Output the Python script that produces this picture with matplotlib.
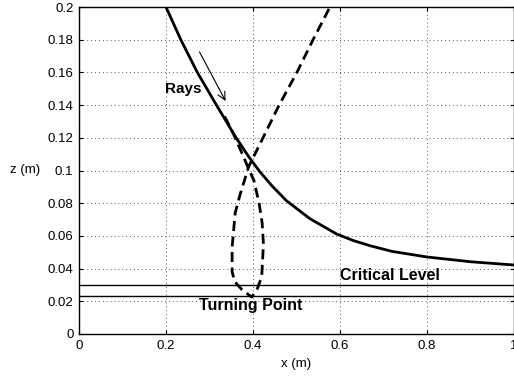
import matplotlib
matplotlib.use("Agg")
import matplotlib.pyplot as plt

plt.rcParams['font.family'] = ['Liberation Sans', 'DejaVu Sans']

# Solid ray (approaches critical level)
solid_x = [0.2, 0.234, 0.272, 0.316, 0.36, 0.39, 0.415, 0.444, 0.477, 0.531, 0.592,
           0.63, 0.669, 0.72, 0.8, 0.9, 1.0]
solid_z = [0.2, 0.18, 0.16, 0.14, 0.1205, 0.1085, 0.0995, 0.0905, 0.0815, 0.0705, 0.0612,
           0.0572, 0.0540, 0.0505, 0.0471, 0.0442, 0.0422]

# Dashed ray (reflects at turning point)
dash_x = [0.335, 0.354, 0.374, 0.39, 0.402, 0.414, 0.421, 0.424, 0.42, 0.409, 0.397,
          0.375, 0.358, 0.352, 0.352, 0.359, 0.37, 0.39, 0.423, 0.46, 0.501, 0.538, 0.577]
dash_z = [0.133, 0.123, 0.111, 0.101, 0.094, 0.080, 0.068, 0.055, 0.035, 0.027, 0.0226,
          0.027, 0.032, 0.038, 0.053, 0.074, 0.085, 0.1023, 0.12, 0.14, 0.16, 0.18, 0.2]

critical_level = 0.030
turning_level = 0.0234

x_ticks = [0, 0.2, 0.4, 0.6, 0.8, 1.0]
x_labels = ["0", "0.2", "0.4", "0.6", "0.8", "1"]
z_ticks = [0, 0.02, 0.04, 0.06, 0.08, 0.1, 0.12, 0.14, 0.16, 0.18, 0.2]
z_labels = ["0", "0.02", "0.04", "0.06", "0.08", "0.1", "0.12", "0.14", "0.16", "0.18", "0.2"]

fig = plt.figure(figsize=(5.14, 3.77), dpi=100)
ax = fig.add_axes([79/514, 43/377, 435/514, 327/377])

ax.plot(solid_x, solid_z, color='black', lw=2.0, solid_joinstyle='round')
ax.plot(dash_x, dash_z, color='black', lw=2.0, linestyle=(0, (3.6, 2.0)))
ax.axhline(critical_level, color='black', lw=1.0)
ax.axhline(turning_level, color='black', lw=1.0)

ax.annotate('', xy=(0.34, 0.141), xytext=(0.274, 0.174),
            arrowprops=dict(arrowstyle='->', color='black', lw=0.8, mutation_scale=14))

ax.text(0.24, 0.150, 'Rays', fontsize=11, fontweight='bold', ha='center', va='center')
ax.text(0.6, 0.0312, 'Critical Level', fontsize=11.5, fontweight='bold', ha='left', va='bottom')
ax.text(0.395, 0.0222, 'Turning Point', fontsize=11.5, fontweight='bold', ha='center', va='top')

ax.set_xlim(0, 1)
ax.set_ylim(0, 0.2)
ax.set_xticks(x_ticks)
ax.set_xticklabels(x_labels)
ax.set_yticks(z_ticks)
ax.set_yticklabels(z_labels)
ax.tick_params(direction='in', top=True, right=True, labelsize=9.5, length=3, width=0.8, pad=4)
ax.grid(True, linestyle=(0, (1, 3)), color='#555555', lw=0.7)
for s in ax.spines.values():
    s.set_linewidth(1.0)

ax.set_xlabel('x (m)', fontsize=9.5, labelpad=5)
ax.set_ylabel('z (m)', fontsize=9.5, rotation=0, ha='center', va='center')
ax.yaxis.set_label_coords(-0.124, 0.5)

fig.savefig('out.png', dpi=100)
